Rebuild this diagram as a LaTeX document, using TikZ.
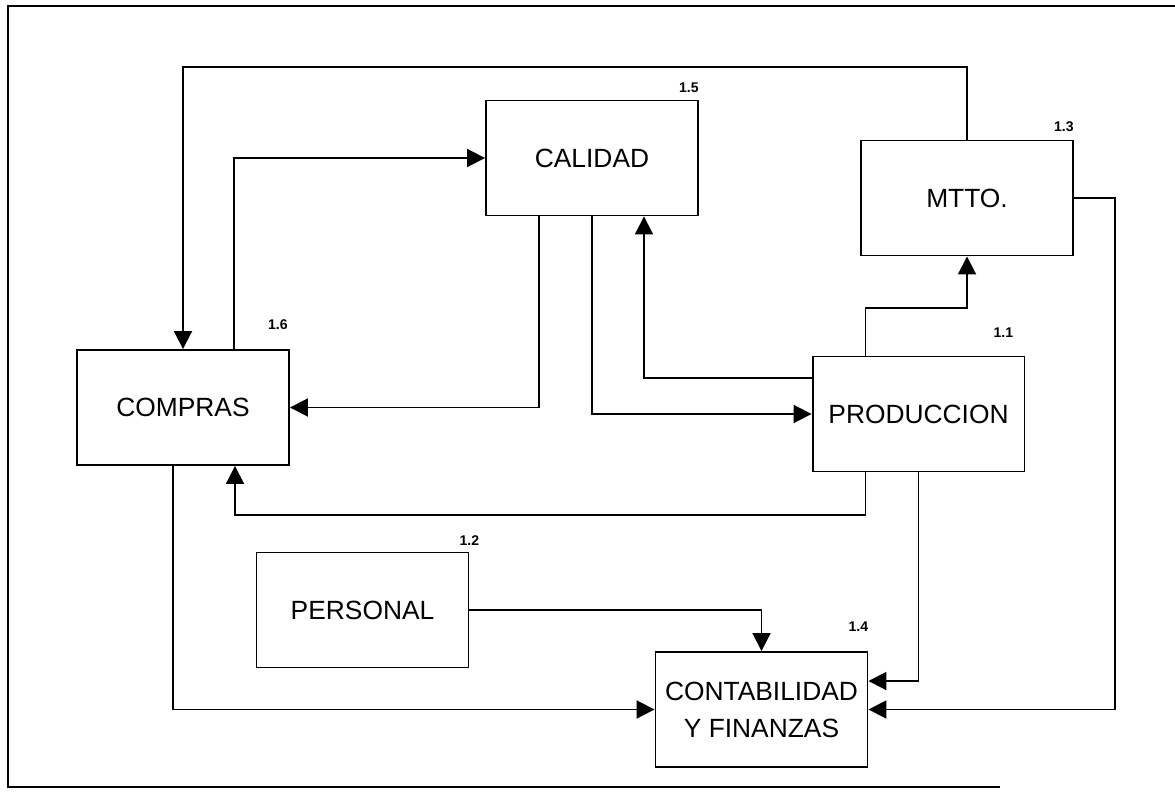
\documentclass[tikz,border=0pt]{standalone}
\usepackage{fontspec}
\setmainfont{Liberation Sans}
\usetikzlibrary{arrows.meta, positioning}

\begin{document}
\begin{tikzpicture}[
    x=0.02cm, y=-0.02cm,
    block/.style={rectangle, draw, line width=1.1pt, align=center, inner sep=2pt, minimum width=4.24cm, minimum height=2.3cm, font=\fontsize{15}{21}\selectfont},
    arrow/.style={-{Triangle[length=0.36cm, width=0.36cm]}, line width=1.1pt},
    num/.style={inner sep=0pt, font=\fontsize{8}{9}\selectfont\bfseries}
]
\useasboundingbox (0,0) rectangle (1175,797);

% frame
\draw[line width=1pt] (1175,6) -- (8,6) -- (8,787) -- (1000,787);

\node[block] (cal) at (592,158) {CALIDAD};
\node[block] (mtto) at (967,198) {MTTO.};
\node[block] (com) at (183,407.5) {COMPRAS};
\node[block] (prod) at (918.5,414) {PRODUCCION};
\node[block] (pers) at (362.5,610) {PERSONAL};
\node[block] (cont) at (761.5,709.5) {CONTABILIDAD\\Y FINANZAS};

\node[num, above left=0.14cm and 0cm of cal.north east] (n15) {1.5};
\node[num, above left=0.16cm and 0cm of mtto.north east] (n13) {1.3};
\node[num, above left=0.38cm and 0.04cm of com.north east] (n16) {1.6};
\node[num, above left=0.36cm and 0.24cm of prod.north east] (n11) {1.1};
\node[num, above left=0.12cm and -0.2cm of pers.north east] (n12) {1.2};
\node[num, above left=0.38cm and 0cm of cont.north east] (n14) {1.4};

\draw[arrow] (mtto.north) -- ++(0,-73) -| (com.north);
\draw[arrow] ([xshift=1.02cm]com.north) |- (cal.west);
\draw[arrow] ([xshift=-1.06cm]cal.south) |- (com.east);
\draw[arrow] (cal.south) |- (prod.west);
\draw[arrow] ([yshift=0.72cm]prod.west) -| ([xshift=1.04cm]cal.south);
\draw[arrow] ([xshift=-1.06cm]prod.north) -- ++(0,-48) -| (mtto.south);
\draw[arrow] ([xshift=-1.06cm]prod.south) -- ++(0,43) -| ([xshift=1.04cm]com.south);
\draw[arrow] (prod.south) |- ([yshift=0.57cm]cont.east);
\draw[arrow] (mtto.east) -- ++(41,0) |- (cont.east);
\draw[arrow] (pers.east) -| (cont.north);
\draw[arrow] ([xshift=-0.2cm]com.south) |- (cont.west);

\end{tikzpicture}
\end{document}
